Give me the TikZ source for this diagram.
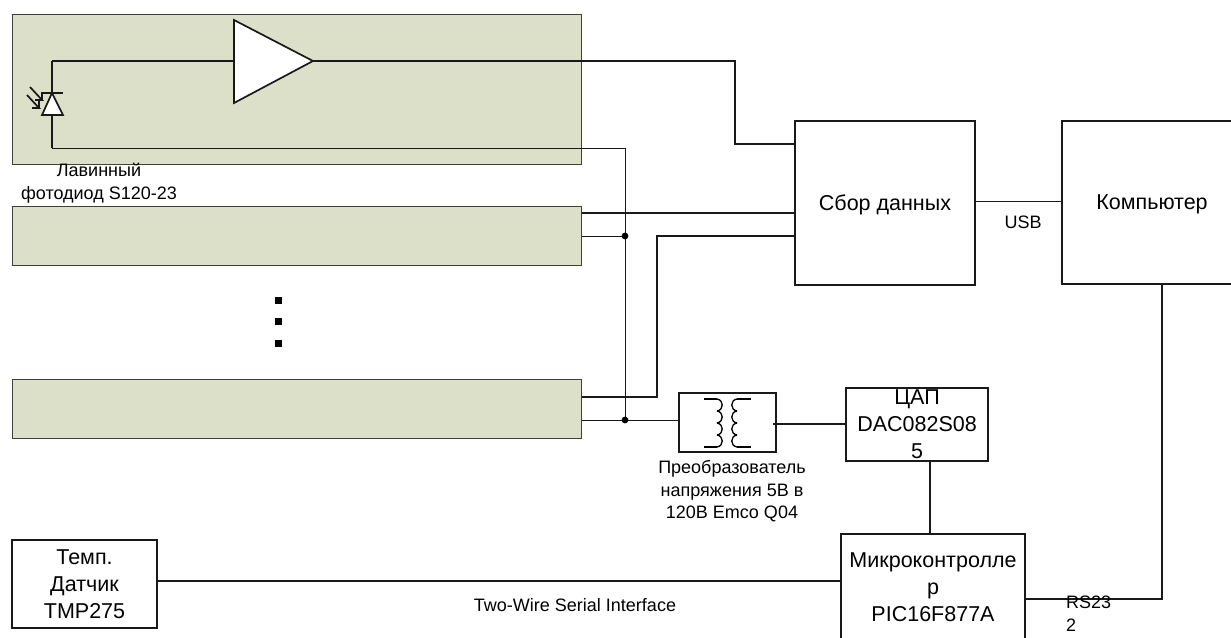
\documentclass[tikz,border=0pt]{standalone}
\usepackage{fontspec}
\setmainfont{Liberation Sans}
\definecolor{chanfill}{HTML}{DDE0C8}
\tikzset{
    block/.style={draw=black!90, line width=1.6pt, inner sep=0pt, align=center, font=\fontsize{21.5}{27}\selectfont},
    lowtext/.style={text height=19.5pt, text depth=4.6pt},
    chan/.style={draw=black!75, line width=1pt, fill=chanfill, inner sep=0pt, minimum width=569pt},
    note/.style={inner sep=0pt, align=center, font=\fontsize{18}{22.5}\selectfont},
    wire/.style={line width=1.7pt, black!90},
    thinwire/.style={line width=0.9pt, black!90},
    pad/.style={fill=black, inner sep=0pt, minimum size=7pt}
}

\begin{document}
\begin{tikzpicture}[x=1pt, y=-1pt]
    \useasboundingbox (0,0) rectangle (1231,637);
    \clip (0,0) rectangle (1231,637);

    % Channels
    \node[chan, minimum height=150pt] (chanA) at (296.5,89) {};
    \node[chan, minimum height=59pt] (chanB) at (296.5,235.5) {};
    \node[chan, minimum height=59pt] (chanC) at (296.5,408.5) {};
    \foreach \y in {300,321,343}
        \node[pad] (pad\y) at (278,\y) {};

    % Blocks
    \node[block, lowtext, minimum width=180pt, minimum height=164pt] (daq) at (885,203) {Сбор данных};
    \node[block, lowtext, minimum width=180pt, minimum height=163pt] (comp) at (1152,202.5) {Компьютер};
    \node[block, minimum width=97pt, minimum height=59pt] (conv) at (727.5,422.5) {};
    \node[block, minimum width=142pt, minimum height=73pt] (dac) at (917,424.5) {ЦАП\\DAC082S08\\5};
    \node[block, minimum width=184pt, minimum height=106pt] (mcu) at (933,587) {Микроконтролле\\р\\PIC16F877A};
    \node[block, minimum width=145pt, minimum height=88pt] (temp) at (84.5,584) {Темп.\\Датчик\\TMP275};

    % Wire corners and tap points
    \coordinate (diodeTop) at (52,61);
    \coordinate (diodeLow) at (52,148);
    \coordinate (ampIn) at (234,61);
    \coordinate (ampOut) at (313,61);
    \coordinate (daqA) at (735,61);
    \coordinate (daqB) at (735,144);
    \coordinate (busTop) at (625,148);
    \coordinate (tapB) at (625,236);
    \coordinate (tapC) at (625,420);
    \coordinate (riseLow) at (657,397);
    \coordinate (riseTop) at (657,236);
    \coordinate (convOut) at (773,424);
    \coordinate (rsCorner) at (1162,599);

    % Photodiode
    \draw[wire] (diodeTop) -- (ampIn);
    \draw[wire] (diodeTop) -- (diodeLow);
    \draw[wire, fill=white] (52,93) -- (63,115) -- (42,115) -- cycle;
    \draw[wire] (42,100) -- (42,93) -- (63,93);
    \draw[wire] (30,87) -- (42,100) -- (35,100);
    \draw[wire] (27,95) -- (39,108) -- (32,108) (39,108) -- (39,101);

    % Amplifier
    \draw[wire, fill=white] (ampIn |- 0,20) -- (ampOut) -- (ampIn |- 0,103) -- cycle;
    \draw[wire] (ampOut) -- (daqA) -- (daqB) -- (daq.west |- daqB);

    % Signal lines
    \draw[wire] (chanB.east |- 0,213) -- (daq.west |- 0,213);
    \draw[wire] (chanC.east |- riseLow) -- (riseLow) -- (riseTop) -- (daq.west |- riseTop);
    \draw[thinwire] (diodeLow) -- (busTop) -- (tapC);
    \draw[thinwire] (chanB.east |- tapB) -- (tapB);
    \draw[thinwire] (chanC.east |- tapC) -- (conv.west |- tapC);
    \fill (tapB) circle (3.4pt);
    \fill (tapC) circle (3.4pt);

    % Transformer
    \foreach \y in {399,411,423,435} {
        \draw[line width=1.3pt] (717,\y) .. controls (724,\y+1) and (724,\y+11) .. (717,\y+12);
        \draw[line width=1.3pt] (737,\y) .. controls (730,\y+1) and (730,\y+11) .. (737,\y+12);
    }
    \draw[line width=1.3pt] (704,399) -- (717,399) (717,447) -- (704,447);
    \draw[line width=1.3pt] (751,399) -- (737,399) (737,447) -- (751,447);

    % Control lines
    \draw[wire] (convOut) -- (dac.west |- convOut);
    \draw[wire] (dac.south -| 930,0) -- (mcu.north -| 930,0);
    \draw[wire] (temp.east |- 0,581) -- (mcu.west |- 0,581);
    \draw[wire] (mcu.east |- rsCorner) -- (rsCorner) -- (comp.south -| rsCorner);
    \draw[thinwire] (daq.east |- 0,201) -- (comp.west |- 0,201);

    % Labels
    \node[note] (apdLabel) at (99,183) {Лавинный\\фотодиод S120-23};
    \node[note] (convLabel) at (732,491.5) {Преобразователь\\напряжения 5В в\\120В Emco Q04};
    \node[note] (usbLabel) at (1023,222) {USB};
    \node[note] (twiLabel) at (575,605) {Two-Wire Serial Interface};
    \node[note, align=left, anchor=north west] (rsLabel) at (1066,596) {RS23\\2};
\end{tikzpicture}
\end{document}
